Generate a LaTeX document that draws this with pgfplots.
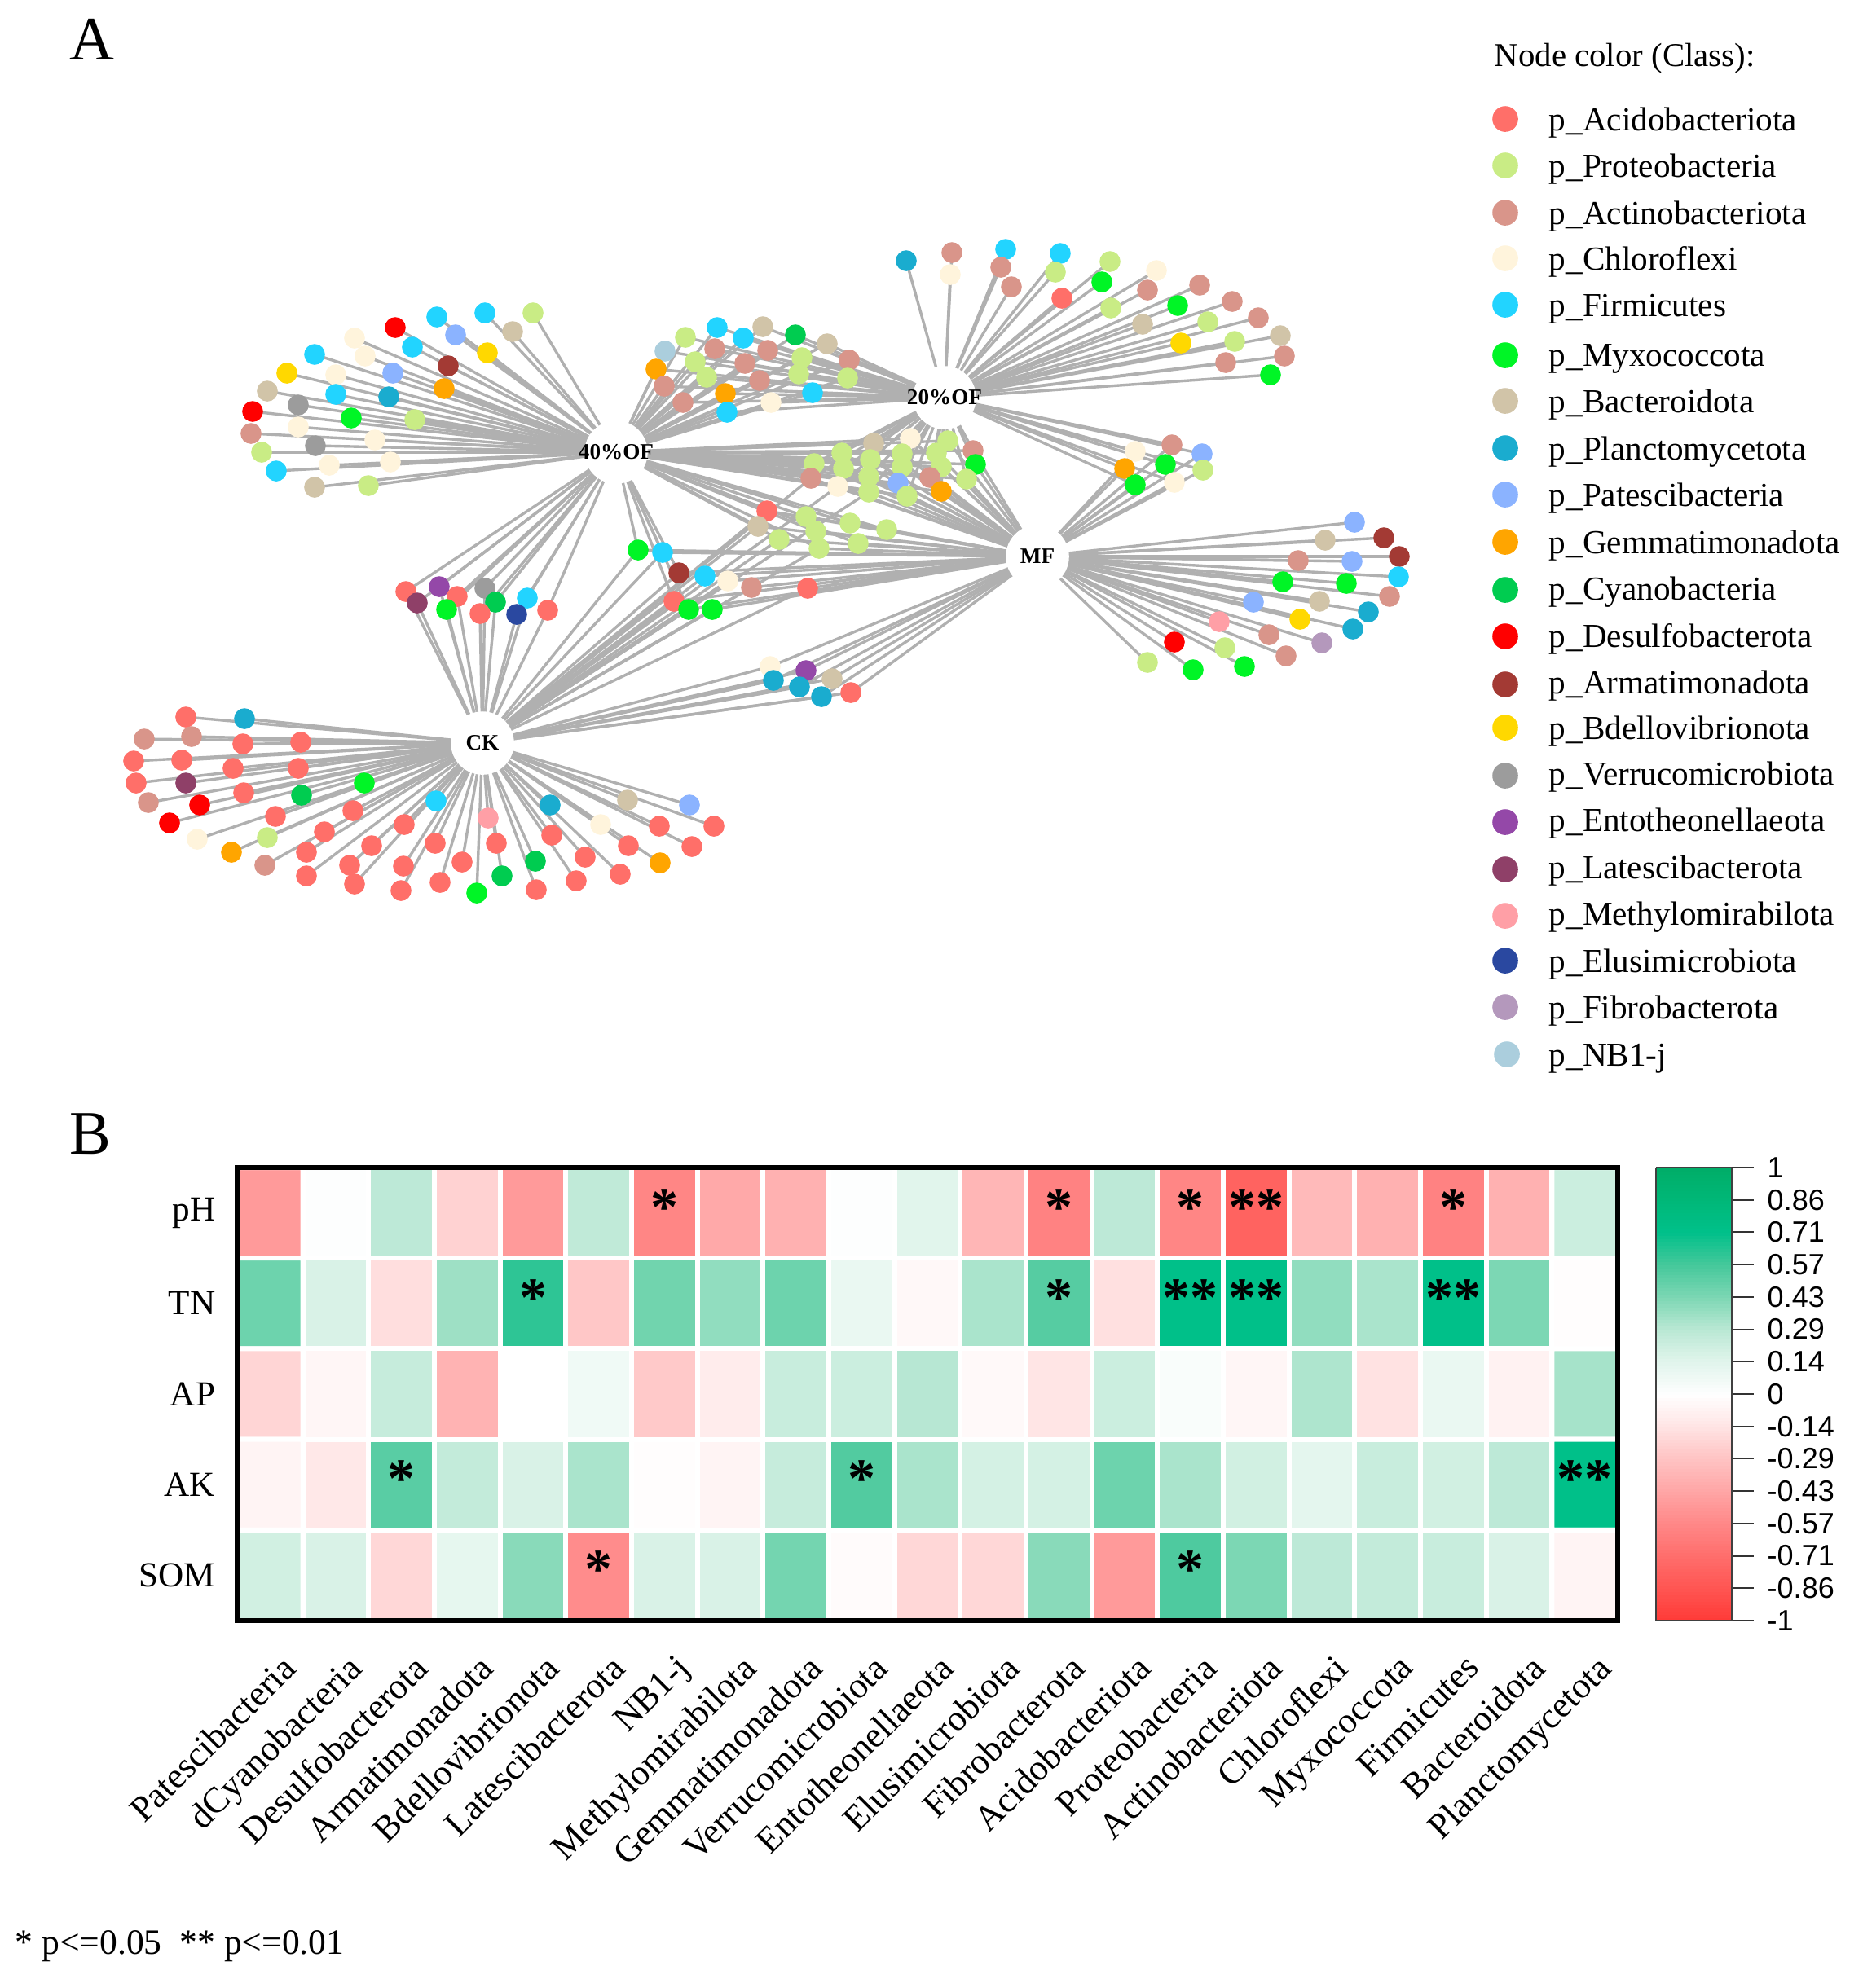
\documentclass[border=0pt]{standalone}
\usepackage{fontspec}
\setmainfont{Liberation Serif}
\newfontfamily\arial{Liberation Sans}
\usepackage{pgfplots}
\usepackage{pgfplotstable}
\pgfplotsset{compat=1.18}

% node colours, one per phylum
\definecolor{nca}{HTML}{FF6F69}\definecolor{ncb}{HTML}{C9EC85}\definecolor{ncc}{HTML}{D9958A}
\definecolor{ncd}{HTML}{FFF4DC}\definecolor{nce}{HTML}{22D4FF}\definecolor{ncf}{HTML}{00F526}
\definecolor{ncg}{HTML}{D1C4A8}\definecolor{nch}{HTML}{1AACCF}\definecolor{nci}{HTML}{8BB3FF}
\definecolor{ncj}{HTML}{FFA500}\definecolor{nck}{HTML}{00CC50}\definecolor{ncl}{HTML}{FF0000}
\definecolor{ncm}{HTML}{A33A34}\definecolor{ncn}{HTML}{FFD800}\definecolor{nco}{HTML}{9C9C9C}
\definecolor{ncp}{HTML}{9448A8}\definecolor{ncq}{HTML}{8F4068}\definecolor{ncr}{HTML}{FF9FA6}
\definecolor{ncs}{HTML}{2A48A0}\definecolor{nct}{HTML}{B498BC}\definecolor{ncu}{HTML}{ABCEDD}
\definecolor{edgegray}{HTML}{B0B0B0}

\pgfplotsset{
  colormap={rg}{rgb255=(255,58,55) rgb255=(255,85,82) rgb255=(255,110,108) rgb255=(255,135,135)
    rgb255=(255,165,165) rgb255=(255,195,195) rgb255=(255,228,228) rgb255=(255,255,255)
    rgb255=(225,245,236) rgb255=(185,232,212) rgb255=(125,215,180) rgb255=(70,200,155)
    rgb255=(0,192,138) rgb255=(0,184,120) rgb255=(0,173,104)},
  phylum/.style={scatter,only marks,scatter src=explicit symbolic,
    scatter/classes={a={mark=*,nca},b={mark=*,ncb},c={mark=*,ncc},d={mark=*,ncd},e={mark=*,nce},
      f={mark=*,ncf},g={mark=*,ncg},h={mark=*,nch},i={mark=*,nci},j={mark=*,ncj},k={mark=*,nck},
      l={mark=*,ncl},m={mark=*,ncm},n={mark=*,ncn},o={mark=*,nco},p={mark=*,ncp},q={mark=*,ncq},
      r={mark=*,ncr},s={mark=*,ncs},t={mark=*,nct},u={mark=*,ncu}}},
}

% 40%OF only
\pgfplotstableread{
x y c
654 384 b
595 384 e
536 389 e
629 407 g
485 402 l
559 411 i
435 415 d
506 426 e
598 433 n
448 437 d
386 435 e
550 449 m
352 458 n
412 460 d
482 458 i
545 477 j
328 480 g
412 484 e
477 487 h
366 497 o
310 505 l
431 513 f
509 515 b
366 524 d
308 532 c
460 540 d
387 547 o
321 555 b
479 567 d
404 571 d
339 578 e
452 596 b
386 598 g
}\tOF
% 40%OF and CK
\pgfplotstableread{
x y c
498 726 a
539 720 p
512 740 q
561 732 a
595 722 o
548 748 f
608 739 k
589 753 a
647 734 e
634 754 s
672 749 a
}\tOFCK
% CK only
\pgfplotstableread{
x y c
228 880 a
300 882 h
177 907 c
235 904 c
298 913 a
369 911 a
164 934 a
223 933 a
286 943 a
366 943 a
167 961 a
228 961 q
299 973 a
447 961 f
370 976 k
182 985 c
245 988 l
535 983 e
433 995 a
338 1002 a
208 1010 l
675 988 h
770 982 g
846 988 i
599 1004 r
496 1012 a
398 1021 a
242 1030 d
328 1028 b
737 1012 d
809 1014 a
876 1014 a
677 1025 a
456 1038 a
534 1035 a
609 1035 a
771 1038 a
849 1039 a
284 1046 j
376 1046 a
718 1052 a
325 1062 c
429 1062 a
567 1058 a
495 1063 a
657 1057 k
810 1059 j
761 1073 a
376 1075 a
616 1075 k
540 1083 a
707 1081 a
435 1085 a
492 1093 a
658 1092 a
585 1096 f
}\tCK
% 40%OF and 20%OF
\pgfplotstableread{
x y c
841 414 b
880 402 e
936 401 g
976 411 k
912 415 e
816 431 u
877 428 c
942 430 c
1015 422 g
1042 442 c
853 444 b
914 446 c
984 439 b
805 453 j
867 463 b
980 459 b
932 467 c
1040 464 b
815 474 c
890 483 j
997 482 e
838 494 c
946 494 d
892 506 e
}\tOFT
% 20%OF only
\pgfplotstableread{
x y c
1112 320 h
1168 310 c
1166 337 d
1234 306 e
1228 328 c
1241 352 c
1301 311 e
1295 334 b
1303 366 a
1362 321 b
1352 346 f
1363 378 b
1419 332 d
1408 356 c
1472 350 c
1445 375 f
1402 398 g
1482 395 b
1512 370 c
1449 421 n
1515 419 b
1544 390 c
1571 412 g
1504 445 c
1576 437 c
1559 460 f
}\tT
% 20%OF and MF
\pgfplotstableread{
x y c
1438 546 c
1393 554 d
1475 557 i
1380 575 j
1430 570 f
1476 577 b
1393 595 f
1441 592 d
}\tTMF
% MF only
\pgfplotstableread{
x y c
1662 641 i
1698 660 m
1626 663 g
1717 683 m
1593 688 c
1659 689 i
1716 708 e
1574 714 f
1652 716 f
1705 732 c
1619 738 g
1538 739 i
1679 751 h
1595 760 n
1496 763 r
1660 772 h
1557 779 c
1622 789 t
1441 788 l
1503 795 b
1578 805 c
1408 813 b
1527 818 f
1464 822 f
}\tMF
% 40%OF, 20%OF and MF
\pgfplotstableread{
x y c
1072 544 g
1117 538 d
1163 541 b
1194 553 c
1033 556 b
999 569 b
1068 564 b
1107 557 b
1149 556 b
1197 570 f
1035 575 b
1107 573 b
1155 573 b
995 587 c
1066 585 b
1141 586 c
1186 588 b
1028 597 d
1102 593 i
1155 603 j
1066 604 b
1113 609 b
}\tOFTMF
% 40%OF and MF
\pgfplotstableread{
x y c
941 627 a
930 646 g
989 634 b
1043 642 b
1001 652 b
1088 650 b
956 662 b
1053 667 b
1005 673 b
}\tOFMF
% CK, 40%OF and MF
\pgfplotstableread{
x y c
783 675 f
813 678 e
833 703 m
827 738 a
845 748 f
}\tAll
% CK and MF
\pgfplotstableread{
x y c
865 707 e
893 713 d
922 721 c
991 722 a
874 748 f
945 818 d
989 823 p
949 835 h
1021 833 g
981 843 h
1008 855 h
1044 850 a
}\tCKMF
% extra CK links into the middle cluster
\pgfplotstableread{
x y c
930 646 g
941 627 a
995 587 c
1028 597 d
1066 604 b
956 662 b
1005 673 b
}\tCKextra
% legend markers
\pgfplotstableread{
x y c
1847 146 a
1847 203 b
1847 261 c
1847 317 d
1847 374 e
1847 436 f
1847 492 g
1847 550 h
1847 607 i
1847 665 j
1847 724 k
1847 781 l
1847 840 m
1847 893 n
1847 952 o
1847 1009 p
1847 1067 q
1847 1124 r
1847 1179 s
1847 1236 t
1849 1294 u
}\tLegend

\newcommand{\edges}[3]{\addplot[color=edgegray,line width=0.85pt,mark=none,quiver={u=#2-\thisrow{x},v=#3-\thisrow{y}}] table[x=x,y=y]{#1};}
\newcommand{\nodeset}[1]{\addplot[phylum,mark size=3pt] table[x=x,y=y,meta=c]{#1};}
\newcommand{\legtext}[2]{\node[anchor=base west,inner sep=0pt,font=\fontsize{10.3}{12}\selectfont] at (axis cs:1900,#1+14) {p\_#2};}

\begin{document}
\begin{tikzpicture}
% panel A, axis units are pixels of the figure
\begin{axis}[
  at={(0,0)},anchor=north west,
  scale only axis,width=571.5pt,height=610pt,
  xmin=0,xmax=2286,ymin=0,ymax=2440,y dir=reverse,
  hide axis,clip=false,
]
\path (axis cs:0,0) rectangle (axis cs:2286,2440);

\edges{\tOF}{756}{555}
\edges{\tOFCK}{756}{555}
\edges{\tOFCK}{592}{912}
\edges{\tCK}{592}{912}
\edges{\tOFT}{756}{555}
\edges{\tOFT}{1159}{488}
\edges{\tT}{1159}{488}
\edges{\tTMF}{1159}{488}
\edges{\tTMF}{1273}{683}
\edges{\tMF}{1273}{683}
\edges{\tOFTMF}{756}{555}
\edges{\tOFTMF}{1159}{488}
\edges{\tOFTMF}{1273}{683}
\edges{\tOFMF}{756}{555}
\edges{\tOFMF}{1273}{683}
\edges{\tAll}{756}{555}
\edges{\tAll}{592}{912}
\edges{\tAll}{1273}{683}
\edges{\tCKMF}{592}{912}
\edges{\tCKMF}{1273}{683}
\edges{\tCKextra}{592}{912}

% hubs, labels go with the plot so they stay above the white discs
\addplot[only marks,mark=*,mark size=9.5pt,white,point meta=explicit symbolic,
  nodes near coords={\pgfplotspointmeta},
  every node near coord/.style={anchor=center,inner sep=0pt,black,font=\bfseries\fontsize{6.8}{7}\selectfont}]
  coordinates {(756,555) [40\%OF] (592,912) [CK] (1159,488) [20\%OF] (1273,683) [MF]};

\nodeset{\tOF}
\nodeset{\tCK}
\nodeset{\tOFCK}
\nodeset{\tOFT}
\nodeset{\tT}
\nodeset{\tTMF}
\nodeset{\tMF}
\nodeset{\tOFMF}
\nodeset{\tOFTMF}
\nodeset{\tAll}
\nodeset{\tCKMF}
\addplot[phylum,mark size=3.75pt] table[x=x,y=y,meta=c]{\tLegend};

\node[anchor=base west,inner sep=0pt,font=\fontsize{19}{20}\selectfont] at (axis cs:85,73) {A};
\node[anchor=base west,inner sep=0pt,font=\fontsize{19}{20}\selectfont] at (axis cs:85,1416) {B};
\node[anchor=base west,inner sep=0pt,font=\fontsize{10.2}{12}\selectfont] at (axis cs:1833,81) {Node color (Class):};
\node[anchor=base west,inner sep=0pt,font=\fontsize{10.9}{12}\selectfont] at (axis cs:18,2398) {* p<=0.05\ \ ** p<=0.01};

\legtext{146}{Acidobacteriota}
\legtext{203}{Proteobacteria}
\legtext{261}{Actinobacteriota}
\legtext{317}{Chloroflexi}
\legtext{374}{Firmicutes}
\legtext{435}{Myxococcota}
\legtext{492}{Bacteroidota}
\legtext{550}{Planctomycetota}
\legtext{607}{Patescibacteria}
\legtext{665}{Gemmatimonadota}
\legtext{722}{Cyanobacteria}
\legtext{780}{Desulfobacterota}
\legtext{837}{Armatimonadota}
\legtext{893}{Bdellovibrionota}
\legtext{949}{Verrucomicrobiota}
\legtext{1006}{Entotheonellaeota}
\legtext{1064}{Latescibacterota}
\legtext{1121}{Methylomirabilota}
\legtext{1179}{Elusimicrobiota}
\legtext{1236}{Fibrobacterota}
\legtext{1294}{NB1-j}
\end{axis}

% panel B, heatmap
\begin{axis}[
  at={(72.75pt,-358.25pt)},anchor=north west,
  scale only axis,width=423.5pt,height=139pt,
  xmin=-0.5,xmax=20.5,ymin=-0.5,ymax=4.5,y dir=reverse,
  colormap name=rg,point meta min=-1,point meta max=1,
  axis on top,axis line style={line width=1.5pt,black},
  major tick length=0pt,
  xtick={0,...,20},ytick={0,...,4},
  xticklabels={Patescibacteria,dCyanobacteria,Desulfobacterota,Armatimonadota,Bdellovibrionota,Latescibacterota,NB1-j,Methylomirabilota,Gemmatimonadota,Verrucomicrobiota,Entotheonellaeota,Elusimicrobiota,Fibrobacterota,Acidobacteriota,Proteobacteria,Actinobacteriota,Chloroflexi,Myxococcota,Firmicutes,Bacteroidota,Planctomycetota},
  yticklabels={pH,TN,AP,AK,SOM},
  xticklabel style={rotate=45,anchor=north east,inner sep=0pt,xshift=-4.6pt,yshift=-9pt,font=\fontsize{11.1}{12}\selectfont},
  yticklabel style={inner sep=0pt,xshift=-6.5pt,font=\fontsize{10.8}{12}\selectfont},
  colorbar sampled,
  colorbar style={
    at={(1.0277,1)},anchor=north west,
    samples=141,
    width=23.25pt,
    axis line style={line width=0.6pt,black!75},
    ytick={-1,-0.857143,-0.714286,-0.571429,-0.428571,-0.285714,-0.142857,0,0.142857,0.285714,0.428571,0.571429,0.714286,0.857143,1},
    yticklabels={-1,-0.86,-0.71,-0.57,-0.43,-0.29,-0.14,0,0.14,0.29,0.43,0.57,0.71,0.86,1},
    yticklabel pos=right,ytick pos=right,tick align=outside,
    major tick length=6.75pt,
    ytick style={line width=0.5pt,black!80},
    yticklabel style={inner sep=0pt,xshift=4pt,font=\arial\fontsize{9}{10}\selectfont},
  },
]
\addplot[matrix plot*,mesh/cols=21,point meta=explicit,draw=white,line width=1.5pt]
  table[row sep=\\,x=x,y=y,meta=z]{
x y z\\
0 0 -0.48\\ 1 0 0.01\\ 2 0 0.27\\ 3 0 -0.22\\ 4 0 -0.48\\ 5 0 0.26\\ 6 0 -0.58\\ 7 0 -0.41\\ 8 0 -0.37\\ 9 0 0.01\\ 10 0 0.14\\ 11 0 -0.35\\ 12 0 -0.60\\ 13 0 0.27\\ 14 0 -0.58\\ 15 0 -0.78\\ 16 0 -0.33\\ 17 0 -0.37\\ 18 0 -0.60\\ 19 0 -0.37\\ 20 0 0.22\\
0 1 0.47\\ 1 1 0.17\\ 2 1 -0.17\\ 3 1 0.35\\ 4 1 0.62\\ 5 1 -0.27\\ 6 1 0.46\\ 7 1 0.38\\ 8 1 0.47\\ 9 1 0.10\\ 10 1 -0.04\\ 11 1 0.32\\ 12 1 0.53\\ 13 1 -0.16\\ 14 1 0.72\\ 15 1 0.72\\ 16 1 0.38\\ 17 1 0.32\\ 18 1 0.72\\ 19 1 0.43\\ 20 1 -0.01\\
0 2 -0.21\\ 1 2 -0.05\\ 2 2 0.24\\ 3 2 -0.36\\ 4 2 0.00\\ 5 2 0.07\\ 6 2 -0.26\\ 7 2 -0.10\\ 8 2 0.23\\ 9 2 0.22\\ 10 2 0.29\\ 11 2 -0.03\\ 12 2 -0.14\\ 13 2 0.22\\ 14 2 0.03\\ 15 2 -0.05\\ 16 2 0.31\\ 17 2 -0.15\\ 18 2 0.10\\ 19 2 -0.07\\ 20 2 0.33\\
0 3 -0.06\\ 1 3 -0.12\\ 2 3 0.52\\ 3 3 0.25\\ 4 3 0.17\\ 5 3 0.32\\ 6 3 -0.01\\ 7 3 -0.06\\ 8 3 0.24\\ 9 3 0.54\\ 10 3 0.32\\ 11 3 0.19\\ 12 3 0.19\\ 13 3 0.47\\ 14 3 0.32\\ 15 3 0.20\\ 16 3 0.13\\ 17 3 0.23\\ 18 3 0.20\\ 19 3 0.27\\ 20 3 0.72\\
0 4 0.20\\ 1 4 0.17\\ 2 4 -0.20\\ 3 4 0.12\\ 4 4 0.40\\ 5 4 -0.55\\ 6 4 0.17\\ 7 4 0.17\\ 8 4 0.45\\ 9 4 -0.02\\ 10 4 -0.20\\ 11 4 -0.20\\ 12 4 0.40\\ 13 4 -0.48\\ 14 4 0.55\\ 15 4 0.43\\ 16 4 0.27\\ 17 4 0.25\\ 18 4 0.23\\ 19 4 0.17\\ 20 4 -0.06\\
};
\addplot[only marks,mark=none,point meta=explicit symbolic,
  nodes near coords={\pgfplotspointmeta},
  every node near coord/.style={anchor=center,inner sep=0pt,yshift=1.75pt,font=\bfseries\fontsize{17}{17}\selectfont}]
  table[x=x,y=y,meta=s]{
x y s
6 0 *
12 0 *
14 0 *
15 0 **
18 0 *
4 1 *
12 1 *
14 1 **
15 1 **
18 1 **
2 3 *
9 3 *
20 3 **
5 4 *
14 4 *
};
\end{axis}
\end{tikzpicture}
\end{document}
